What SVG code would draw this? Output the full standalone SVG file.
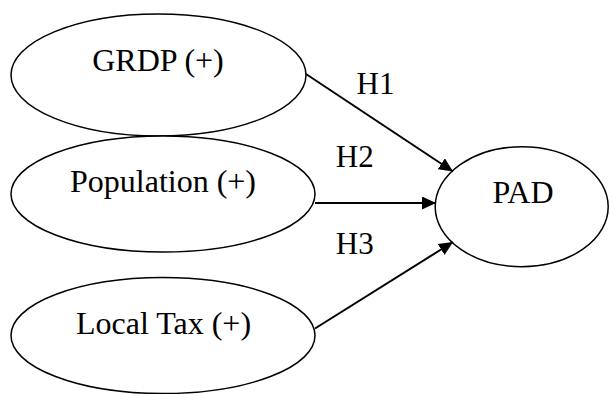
<svg xmlns="http://www.w3.org/2000/svg" width="609" height="394" viewBox="0 0 609 394">
<style>
.node ellipse{fill:#fff;stroke:#000;stroke-width:1.5}
text{font-family:"Liberation Serif","Times New Roman",serif;font-size:31px;fill:#000;text-anchor:middle}
.node text{font-size:32px}
.edge{stroke:#000;stroke-width:2;fill:none;marker-end:url(#arr)}
</style>
<defs>
<marker id="arr" markerUnits="userSpaceOnUse" markerWidth="16" markerHeight="14" refX="14" refY="6.5" orient="auto">
<path d="M0,0 L14,6.5 L0,13 z" fill="#000"/>
</marker>
</defs>
<rect width="609" height="394" fill="#fff"/>
<g id="grdp" class="node">
<ellipse cx="158.5" cy="75" rx="147.5" ry="61"/>
<text x="158" y="71">GRDP (+)</text>
</g>
<g id="population" class="node">
<ellipse cx="163" cy="194" rx="152" ry="58"/>
<text x="163" y="192">Population (+)</text>
</g>
<g id="localtax" class="node">
<ellipse cx="163" cy="335.5" rx="152" ry="58"/>
<text x="163.5" y="334">Local Tax (+)</text>
</g>
<g id="pad" class="node">
<ellipse cx="521.7" cy="206.7" rx="86.5" ry="60"/>
<text x="523" y="203">PAD</text>
</g>
<g id="connectors">
<line class="edge" x1="306" y1="74" x2="453" y2="171.5"/>
<line class="edge" x1="315" y1="203" x2="436" y2="203"/>
<line class="edge" x1="315" y1="328.5" x2="453" y2="242"/>
<text x="375.5" y="94">H1</text>
<text x="354.7" y="166.7">H2</text>
<text x="354.7" y="254">H3</text>
</g>
</svg>
